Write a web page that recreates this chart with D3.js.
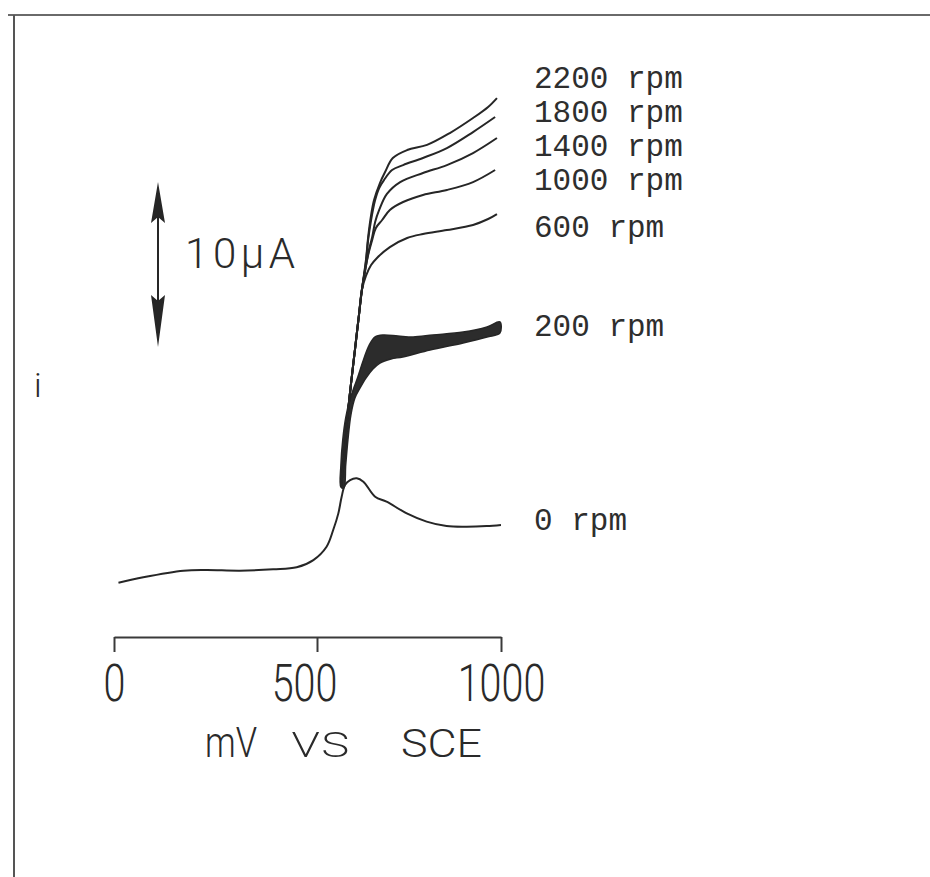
<!DOCTYPE html>
<html>
<head>
<meta charset="utf-8">
<script src="https://cdn.jsdelivr.net/npm/d3@7"></script>
<style>
  html, body { margin: 0; padding: 0; background: #fff; }
  svg { display: block; }
</style>
</head>
<body>
<svg id="chart" width="930" height="877"></svg>
<script>
// Rotating-disk voltammograms: current i (µA) against potential (mV vs SCE)

const potentialTicks = [0, 500, 1000];
const tickLabels = ["0", "500", "1000"];

// stationary electrode, [mV, µA]
const curve0 = [[11,1.05],[72,1.38],[171,1.78],[228,1.82],[310,1.78],[392,1.86],[450,1.98],[491,2.42],
  [526,3.23],[544,4.24],[558,5.25],[567,6.26],[576,6.97],[590,7.27],[608,7.38],[626,7.17],[658,6.26],
  [689,5.96],[744,5.25],[798,4.75],[852,4.48],[907,4.44],[961,4.48],[1000,4.55]];

// steep wave common to the rotating runs
const risingFoot = [[565,6.85],[573,8.48],[582,10.91],[592,13.03],[603,15.15],[614,17.27],[622,18.79]];

const curve600 = [[633,19.64],[647,20.30],[663,20.73],[698,21.39],[745,21.94],[788,22.18],[853,22.42],
  [924,22.73],[965,23.09],[989,23.39]];
const curve1000 = [[630,19.88],[639,20.91],[650,21.82],[660,22.55],[677,23.03],[698,23.64],[734,24.12],
  [788,24.55],[853,24.85],[924,25.33],[984,26.06]];
const curve1400 = [[633,20.24],[641,21.21],[650,22.0],[658,22.91],[669,23.64],[690,24.61],[726,25.33],
  [788,25.88],[853,26.36],[924,27.09],[989,28.0]];
const curve1800 = [[633,20.48],[639,21.82],[647,23.03],[658,24.24],[669,24.97],[682,25.45],[704,26.06],
  [734,26.36],[788,26.79],[853,27.39],[924,28.36],[984,29.27]];
const curve2200 = [[633,20.61],[639,22.0],[647,23.33],[655,24.24],[671,25.27],[685,25.94],[706,26.79],
  [745,27.27],[799,27.58],[861,28.30],[924,29.21],[965,29.88],[989,30.42]];

// 200 rpm: forward and reverse sweeps enclose a hysteresis band
const curve200Forward = [[573,6.79],[578,8.18],[584,9.70],[592,11.21],[603,12.24],[617,12.85],[633,13.45],
  [652,14.0],[671,14.36],[701,14.61],[733,14.73],[807,15.15],[897,15.58],[962,15.94],[997,16.18]];
const curve200Reverse = [[565,6.85],[565,8.18],[570,9.70],[578,11.03],[589,12.12],[600,12.85],[611,13.52],
  [628,14.67],[642,15.45],[658,15.94],[679,16.06],[720,16.0],[761,15.94],[815,16.06],[897,16.24],
  [962,16.55],[997,16.85]];

const rotatingRuns = [
  { label: "2200 rpm", points: curve2200 },
  { label: "1800 rpm", points: curve1800 },
  { label: "1400 rpm", points: curve1400 },
  { label: "1000 rpm", points: curve1000 },
  { label: "600 rpm",  points: curve600 }
];
const rpmLabels = ["2200 rpm", "1800 rpm", "1400 rpm", "1000 rpm", "600 rpm", "200 rpm", "0 rpm"];

// current scale bar: 10 µA
const scaleBarFrom = 15.33;
const scaleBarSpan = 10;

const ink = "#262626";
const thinFont = "Roboto, 'DejaVu Sans', sans-serif";
const svg = d3.select("#chart");

// Frame of the figure
svg.append("line").attr("x1", 8).attr("x2", 930).attr("y1", 15).attr("y2", 15)
  .attr("stroke", "#6a6a6a").attr("stroke-width", 2);
svg.append("line").attr("x1", 14).attr("x2", 14).attr("y1", 15).attr("y2", 877)
  .attr("stroke", "#555").attr("stroke-width", 2);

const x = d3.scaleLinear().domain([0, 500, 1000]).range([114, 317, 501]);
const y = d3.scaleLinear().domain([0, 30]).range([600, 105]);

const line = d3.line()
  .x(d => x(d[0])).y(d => y(d[1]))
  .curve(d3.curveCatmullRom.alpha(0.5));

// 200 rpm band
const band = curve200Forward.concat(curve200Reverse.slice().reverse());
svg.append("path")
  .attr("d", d3.line().x(d => x(d[0])).y(d => y(d[1])).curve(d3.curveCatmullRomClosed.alpha(0.5))(band))
  .attr("fill", "#2c2c2c").attr("stroke", ink).attr("stroke-width", 1.5);

// stationary curve
svg.append("path").attr("d", line(curve0))
  .attr("fill", "none").attr("stroke", ink).attr("stroke-width", 2);

// rotating runs
svg.selectAll("path.run").data(rotatingRuns).join("path")
  .attr("class", "run")
  .attr("d", r => line(risingFoot.concat(r.points)))
  .attr("fill", "none").attr("stroke", ink).attr("stroke-width", 2);

// curve labels
const labelBaselines = [88, 122, 156, 190, 237, 336, 530];
svg.append("g").selectAll("text").data(rpmLabels).join("text")
  .attr("x", 534).attr("y", (d, i) => labelBaselines[i])
  .attr("font-family", "'Liberation Mono', 'Courier New', monospace")
  .attr("font-size", 31).attr("fill", "#2e2e2e")
  .text(d => d);

// potential axis
const axis = d3.axisBottom(x).tickValues(potentialTicks)
  .tickSize(15).tickSizeOuter(0).tickPadding(12.5)
  .tickFormat((d, i) => tickLabels[i]);
const gAxis = svg.append("g").attr("transform", "translate(0,637)").call(axis);
gAxis.select(".domain").attr("stroke", "#3a3a3a").attr("stroke-width", 2);
gAxis.selectAll(".tick line").attr("stroke", "#3a3a3a").attr("stroke-width", 2);
gAxis.selectAll(".tick text")
  .attr("font-family", thinFont)
  .attr("font-weight", 300).attr("font-size", 52).attr("fill", "#2a2a2a")
  .attr("dx", d => (d === 500 ? -17 : 0))
  .attr("transform", "scale(0.76,1)");

// axis title in plotter-style lettering
const titlePieces = [
  { s: "mV",  x: 205, w: 52, fs: 42, fw: 300 },
  { s: "vs",  x: 291, w: 60, fs: 46, fw: 200 },
  { s: "SCE", x: 401, w: 81, fs: 38, fw: 300 }
];
svg.append("g").selectAll("text").data(titlePieces).join("text")
  .attr("x", d => d.x).attr("y", 757)
  .attr("font-family", thinFont).attr("font-weight", d => d.fw).attr("font-size", d => d.fs)
  .attr("fill", "#2a2a2a")
  .attr("textLength", d => d.w).attr("lengthAdjust", "spacingAndGlyphs")
  .text(d => d.s);

// y label
svg.append("text").attr("x", 34).attr("y", 397)
  .attr("font-family", thinFont)
  .attr("font-weight", 300).attr("font-size", 34).attr("fill", "#2a2a2a").text("i");

// scale bar for current
const barX = 158;
const yTop = y(scaleBarFrom + scaleBarSpan), yBot = y(scaleBarFrom);
svg.append("line").attr("x1", barX).attr("x2", barX).attr("y1", yTop + 10).attr("y2", yBot - 10)
  .attr("stroke", ink).attr("stroke-width", 2);
svg.append("path")
  .attr("d", `M${barX},${yTop} L${barX + 7},${yTop + 41} L${barX},${yTop + 35} L${barX - 7},${yTop + 41} Z`)
  .attr("fill", ink);
svg.append("path")
  .attr("d", `M${barX},${yBot} L${barX + 7},${yBot - 52} L${barX},${yBot - 46} L${barX - 7},${yBot - 52} Z`)
  .attr("fill", ink);
svg.append("text").attr("x", 185).attr("y", 268)
  .attr("font-family", thinFont)
  .attr("font-weight", 300).attr("font-size", 42).attr("fill", "#2a2a2a")
  .attr("textLength", 110).attr("lengthAdjust", "spacing")
  .text(scaleBarSpan + "µA");
</script>
</body>
</html>
